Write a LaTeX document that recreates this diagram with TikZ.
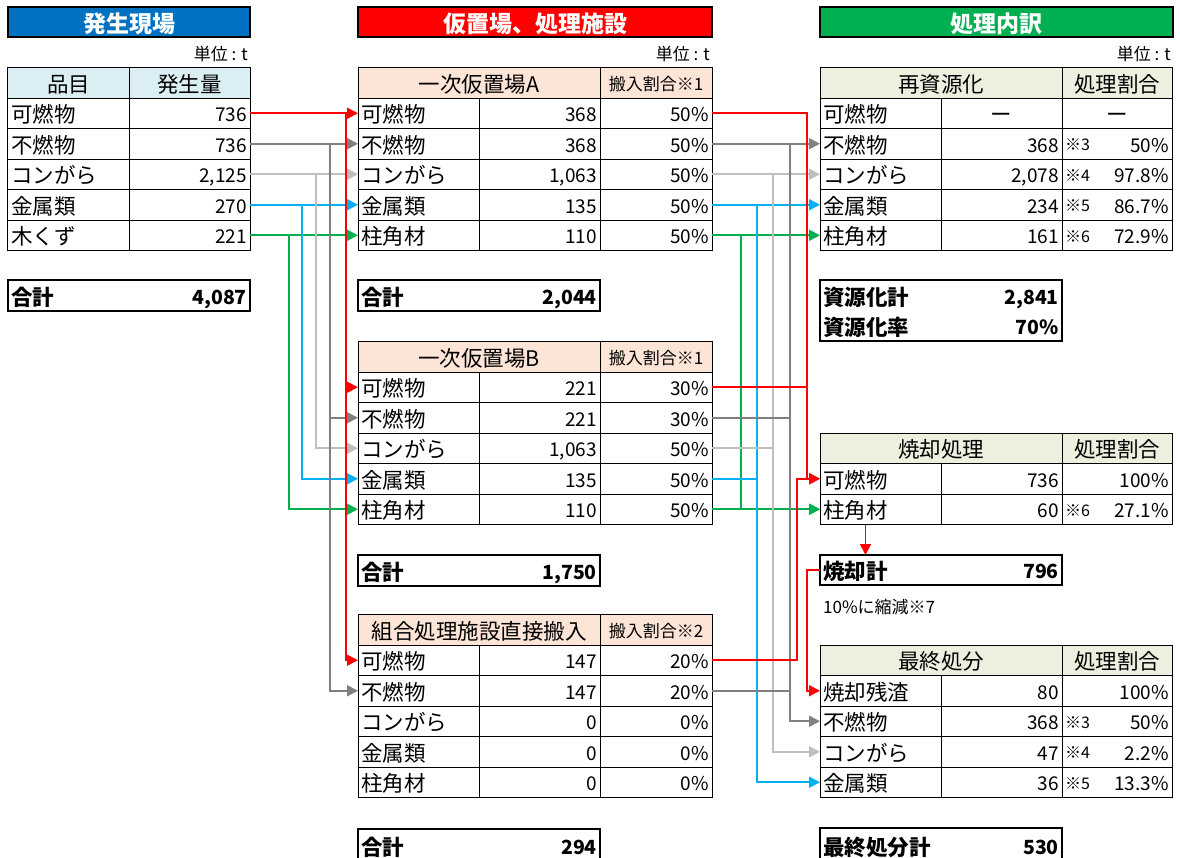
\documentclass[tikz,border=0pt]{standalone}
\usepackage{fontspec}
\setmainfont{Noto Sans CJK JP}
\usetikzlibrary{arrows.meta,calc}
\definecolor{tblue}{HTML}{0070C0}
\definecolor{tred}{HTML}{FF0000}
\definecolor{tgreen}{HTML}{00B050}
\definecolor{hblue}{HTML}{DAEEF3}
\definecolor{hpeach}{HTML}{FCE4D6}
\definecolor{hgreen}{HTML}{EBF1DE}
\definecolor{cred}{HTML}{FF0000}
\definecolor{cgray}{HTML}{808080}
\definecolor{clgray}{HTML}{BFBFBF}
\definecolor{cblue}{HTML}{00B0F0}
\definecolor{cgreen}{HTML}{00B050}
\tikzset{
 cell/.style={draw=black, line width=1bp, inner sep=0pt, outer sep=0pt},
 totbox/.style={line width=2bp},
 titlebox/.style={line width=2bp},
 txt/.style={inner sep=0pt, font=\fontsize{19bp}{19bp}\selectfont, text height=17bp, text depth=0bp},
 txtb/.style={txt, font=\bfseries\fontsize{19.5bp}{19.5bp}\selectfont},
 txtk/.style={inner sep=0pt, font=\fontsize{21.5bp}{21.5bp}\selectfont, text height=19bp, text depth=0bp},
 txtkb/.style={txtk, font=\bfseries\fontsize{21.5bp}{21.5bp}\selectfont},
 txtm/.style={inner sep=0pt, font=\fontsize{17bp}{17bp}\selectfont, text height=15bp, text depth=0bp},
 txts/.style={inner sep=0pt, font=\fontsize{16bp}{16bp}\selectfont, text height=14bp, text depth=0bp},
 txtu/.style={inner sep=0pt, font=\fontsize{17bp}{17bp}\selectfont, text height=15bp, text depth=0bp},
 txttitle/.style={inner sep=0pt, text=white, font=\bfseries\fontsize{23bp}{23bp}\selectfont, text height=20bp, text depth=0bp},
 flow/.style={line width=1.8bp},
 flowa/.style={flow, -{Triangle[length=11bp,width=11bp]}},
}
\newcommand\cellbox[6]{%
 \pgfmathsetmacro\cbw{#4-#2}\pgfmathsetmacro\cbh{#5-#3}%
 \pgfmathsetmacro\cbx{(#2+#4)/2}\pgfmathsetmacro\cby{(#3+#5)/2}%
 \node[cell, minimum width=\cbw bp, minimum height=\cbh bp, #6] (#1) at (\cbx,\cby) {};}
\newcommand\txL[3][txt]{\node[#1, anchor=west] (#2-l) at ([xshift=3bp]#2.west) {#3};}
\newcommand\txR[3][txt]{\node[#1, anchor=east] (#2-r) at ([xshift=-3bp]#2.east) {#3};}
\newcommand\txC[3][txtk]{\node[#1] (#2-c) at (#2.center) {#3};}
\newcommand\leftrow[4]{%
 \pgfmathsetmacro\yb{#2+30.5}%
 \cellbox{Lk#1}{8}{#2}{129}{\yb}{}\txL[txtk]{Lk#1}{#3}%
 \cellbox{Lv#1}{129}{#2}{250}{\yb}{}\txR{Lv#1}{#4}}
\newcommand\midrow[6]{%
 \pgfmathsetmacro\yb{#3+30.5}%
 \cellbox{#1k#2}{358}{#3}{479}{\yb}{}\txL[txtk]{#1k#2}{#4}%
 \cellbox{#1v#2}{479}{#3}{600}{\yb}{}\txR{#1v#2}{#5}%
 \cellbox{#1r#2}{600}{#3}{712}{\yb}{}\txR{#1r#2}{#6}}
\newcommand\rightrow[7]{%
 \pgfmathsetmacro\yb{#3+30.5}%
 \cellbox{#1k#2}{820}{#3}{941}{\yb}{}\txL[txtk]{#1k#2}{#4}%
 \cellbox{#1v#2}{941}{#3}{1062}{\yb}{}\txR{#1v#2}{#5}%
 \cellbox{#1r#2}{1062}{#3}{1172}{\yb}{}\txR{#1r#2}{#7}\txL[txts]{#1r#2}{#6}}
\begin{document}
\begin{tikzpicture}[x=1bp,y=-1bp]
\useasboundingbox (0,0) rectangle (1180,858);
\fill[white] (0,0) rectangle (1180,858);

% ---------- titles ----------
\cellbox{t1}{8}{7}{250}{37}{titlebox, fill=tblue}\txC[txttitle]{t1}{発生現場}
\cellbox{t2}{358}{7}{712}{37}{titlebox, fill=tred}\txC[txttitle]{t2}{仮置場、処理施設}
\cellbox{t3}{820}{7}{1173}{37}{titlebox, fill=tgreen}\txC[txttitle]{t3}{処理内訳}
\node[txtu, anchor=east] (u1) at (248,53) {単位 : t};
\node[txtu, anchor=east] (u2) at (710,53) {単位 : t};
\node[txtu, anchor=east] (u3) at (1171,53) {単位 : t};

% ---------- left table ----------
\cellbox{hL1}{8}{67}{129}{98}{fill=hblue}\txC{hL1}{品目}
\cellbox{hL2}{129}{67}{250}{98}{fill=hblue}\txC{hL2}{発生量}
\leftrow{1}{98}{可燃物}{736}
\leftrow{2}{128.5}{不燃物}{736}
\leftrow{3}{159}{コンがら}{2,125}
\leftrow{4}{189.5}{金属類}{270}
\leftrow{5}{220}{木くず}{221}
\cellbox{Ltot}{8}{280}{250}{311}{totbox}\txL[txtkb]{Ltot}{合計}\txR[txtb]{Ltot}{4,087}

% ---------- middle tables ----------
\cellbox{hA1}{358}{67}{600}{98}{fill=hpeach}\txC{hA1}{一次仮置場A}
\cellbox{hA2}{600}{67}{712}{98}{fill=hpeach}\txC[txtm]{hA2}{搬入割合※1}
\midrow{A}{1}{98}{可燃物}{368}{50\%}
\midrow{A}{2}{128.5}{不燃物}{368}{50\%}
\midrow{A}{3}{159}{コンがら}{1,063}{50\%}
\midrow{A}{4}{189.5}{金属類}{135}{50\%}
\midrow{A}{5}{220}{柱角材}{110}{50\%}
\cellbox{Atot}{358}{280}{600}{311}{totbox}\txL[txtkb]{Atot}{合計}\txR[txtb]{Atot}{2,044}

\cellbox{hB1}{358}{341}{600}{372}{fill=hpeach}\txC{hB1}{一次仮置場B}
\cellbox{hB2}{600}{341}{712}{372}{fill=hpeach}\txC[txtm]{hB2}{搬入割合※1}
\midrow{B}{1}{372}{可燃物}{221}{30\%}
\midrow{B}{2}{402.5}{不燃物}{221}{30\%}
\midrow{B}{3}{433}{コンがら}{1,063}{50\%}
\midrow{B}{4}{463.5}{金属類}{135}{50\%}
\midrow{B}{5}{494}{柱角材}{110}{50\%}
\cellbox{Btot}{358}{555}{600}{586}{totbox}\txL[txtkb]{Btot}{合計}\txR[txtb]{Btot}{1,750}

\cellbox{hC1}{358}{614}{600}{645}{fill=hpeach}\txC{hC1}{組合処理施設直接搬入}
\cellbox{hC2}{600}{614}{712}{645}{fill=hpeach}\txC[txtm]{hC2}{搬入割合※2}
\midrow{C}{1}{645}{可燃物}{147}{20\%}
\midrow{C}{2}{675.5}{不燃物}{147}{20\%}
\midrow{C}{3}{706}{コンがら}{0}{0\%}
\midrow{C}{4}{736.5}{金属類}{0}{0\%}
\midrow{C}{5}{767}{柱角材}{0}{0\%}
\cellbox{Ctot}{358}{829}{600}{868}{totbox}
\node[txtkb, anchor=west] (Ctot-l) at (361,846) {合計};
\node[txtb, anchor=east] (Ctot-r) at (597,846) {294};

% ---------- right tables ----------
\cellbox{hR1}{820}{67}{1062}{98}{fill=hgreen}\txC{hR1}{再資源化}
\cellbox{hR2}{1062}{67}{1172}{98}{fill=hgreen}\txC{hR2}{処理割合}
\cellbox{Rk1}{820}{98}{941}{128.5}{}\txL[txtk]{Rk1}{可燃物}
\cellbox{Rv1}{941}{98}{1062}{128.5}{}\txC{Rv1}{ー}
\cellbox{Rr1}{1062}{98}{1172}{128.5}{}\txC{Rr1}{ー}
\rightrow{R}{2}{128.5}{不燃物}{368}{※3}{50\%}
\rightrow{R}{3}{159}{コンがら}{2,078}{※4}{97.8\%}
\rightrow{R}{4}{189.5}{金属類}{234}{※5}{86.7\%}
\rightrow{R}{5}{220}{柱角材}{161}{※6}{72.9\%}
\cellbox{Rtot}{820}{280}{1062}{341}{totbox}
\node[txtkb, anchor=west] (Rtot-l1) at (823,296) {資源化計};
\node[txtb, anchor=east] (Rtot-r1) at (1059,296) {2,841};
\node[txtkb, anchor=west] (Rtot-l2) at (823,326) {資源化率};
\node[txtb, anchor=east] (Rtot-r2) at (1059,326) {70\%};

\cellbox{hI1}{820}{433}{1062}{463.5}{fill=hgreen}\txC{hI1}{焼却処理}
\cellbox{hI2}{1062}{433}{1172}{463.5}{fill=hgreen}\txC{hI2}{処理割合}
\rightrow{I}{1}{463.5}{可燃物}{736}{}{100\%}
\rightrow{I}{2}{494}{柱角材}{60}{※6}{27.1\%}
\cellbox{Itot}{820}{555}{1062}{585}{totbox}\txL[txtkb]{Itot}{焼却計}\txR[txtb]{Itot}{796}
\node[txtm, anchor=west] (note7) at (823,606) {10\%に縮減※7};

\cellbox{hF1}{820}{645}{1062}{675.5}{fill=hgreen}\txC{hF1}{最終処分}
\cellbox{hF2}{1062}{645}{1172}{675.5}{fill=hgreen}\txC{hF2}{処理割合}
\rightrow{F}{1}{675.5}{焼却残渣}{80}{}{100\%}
\rightrow{F}{2}{706}{不燃物}{368}{※3}{50\%}
\rightrow{F}{3}{736.5}{コンがら}{47}{※4}{2.2\%}
\rightrow{F}{4}{767}{金属類}{36}{※5}{13.3\%}
\cellbox{Ftot}{820}{828}{1062}{868}{totbox}
\node[txtkb, anchor=west] (Ftot-l) at (823,846) {最終処分計};
\node[txtb, anchor=east] (Ftot-r) at (1059,846) {530};

% ---------- bus coordinates ----------
\coordinate (bL1) at (346,0);
\coordinate (bL2) at (330,0);
\coordinate (bL3) at (316,0);
\coordinate (bL4) at (302,0);
\coordinate (bL5) at (289,0);
\coordinate (bR1) at (807,0);
\coordinate (bR1c) at (797,0);
\coordinate (bR2) at (790,0);
\coordinate (bR3) at (773,0);
\coordinate (bR4) at (757,0);
\coordinate (bR5) at (741,0);

% ---------- left connectors ----------
\draw[flowa, cgreen] (Lv5.east) -- (Ak5.west);
\draw[flowa, cgreen] (Lv5.east) -| (bL5 |- Bk5.west) -- (Bk5.west);
\draw[flowa, cblue] (Lv4.east) -- (Ak4.west);
\draw[flowa, cblue] (Lv4.east) -| (bL4 |- Bk4.west) -- (Bk4.west);
\draw[flowa, clgray] (Lv3.east) -- (Ak3.west);
\draw[flowa, clgray] (Lv3.east) -| (bL3 |- Bk3.west) -- (Bk3.west);
\draw[flowa, cgray] (Lv2.east) -- (Ak2.west);
\draw[flowa, cgray] (Lv2.east) -| (bL2 |- Bk2.west) -- (Bk2.west);
\draw[flowa, cgray] (Lv2.east) -| (bL2 |- Ck2.west) -- (Ck2.west);
\draw[flowa, cred] (Lv1.east) -- (Ak1.west);
\draw[flowa, cred] (Lv1.east) -| (bL1 |- Bk1.west) -- (Bk1.west);
\draw[flowa, cred] (Lv1.east) -| (bL1 |- Ck1.west) -- (Ck1.west);

% ---------- right connectors ----------
\draw[flowa, cgreen] (Ar5.east) -- (Rk5.west);
\draw[flowa, cgreen] (Ar5.east) -| (bR5 |- Ik2.west) -- (Ik2.west);
\draw[flowa, cgreen] (Br5.east) -- (Ik2.west);
\draw[flowa, cblue] (Ar4.east) -- (Rk4.west);
\draw[flowa, cblue] (Ar4.east) -| (bR4 |- Fk4.west) -- (Fk4.west);
\draw[flow, cblue] (Br4.east) -- (bR4 |- Br4.east);
\draw[flowa, clgray] (Ar3.east) -- (Rk3.west);
\draw[flowa, clgray] (Ar3.east) -| (bR3 |- Fk3.west) -- (Fk3.west);
\draw[flow, clgray] (Br3.east) -- (bR3 |- Br3.east);
\draw[flowa, cgray] (Ar2.east) -- (Rk2.west);
\draw[flowa, cgray] (Ar2.east) -| (bR2 |- Fk2.west) -- (Fk2.west);
\draw[flow, cgray] (Br2.east) -- (bR2 |- Br2.east);
\draw[flow, cgray] (Cr2.east) -- (bR2 |- Cr2.east);
\draw[flowa, cred] (Ar1.east) -| (bR1 |- Ik1.west) -- (Ik1.west);
\draw[flow, cred] (Br1.east) -- (bR1 |- Br1.east);
\draw[flowa, cred] (Cr1.east) -| (bR1c |- Ik1.west) -- (Ik1.west);
\draw[flowa, cred] (Itot.west) -| (bR1 |- Fk1.west) -- (Fk1.west);
\draw[flowa, cred] ([xshift=-15bp]Ik2.south) -- ([xshift=-15bp]Ik2.south |- Itot.north);
\end{tikzpicture}
\end{document}
